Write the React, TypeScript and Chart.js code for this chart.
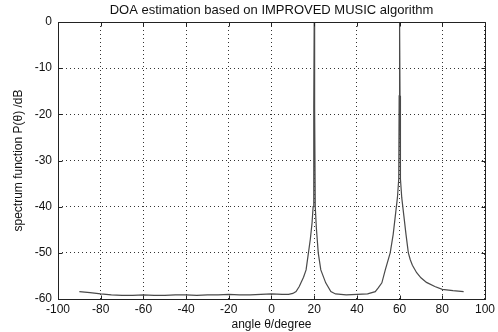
import React, { useEffect, useRef } from "react";
import { Chart, registerables } from "chart.js";

Chart.register(...registerables);

const TITLE = "DOA estimation based on IMPROVED MUSIC algorithm";
const X_LABEL = "angle \u03B8/degree";
const Y_LABEL = "spectrum function P(\u03B8) /dB";

const angles = [
  -90, -85, -80, -75, -70, -65, -60, -55, -50, -45, -40, -35, -30, -25, -20, -15, -10, -5, 0, 5, 8,
  10, 11.5, 13, 13.8, 15, 16.2, 17.3, 18.2, 19, 19.5, 19.8, 20, 20.2, 20.5, 21, 21.9,
  23.1, 25.4, 27.8, 30, 35, 40, 45, 48.6, 50, 51.7, 53.3, 55.6, 57, 58, 59, 59.6, 59.8, 60,
  60.2, 60.4, 61, 62, 63, 64.1, 65, 66, 68, 70, 72.6, 76.5, 80, 85, 90,
];

const spectrum = [
  -58.4, -58.6, -58.9, -59.1, -59.2, -59.2, -59.1, -59.2, -59.2, -59.1, -59.1, -59.2, -59.1, -59.1,
  -59.0, -59.1, -59.1, -59.0, -58.9, -59.0, -59.0,
  -58.8, -58.4, -57.3, -56.5, -55.3, -53.7, -50, -47, -43.5, -40, -18.5, 0, -18.5, -40, -44.5,
  -50, -53.7, -56.5, -58.4, -58.9, -59.1, -59.0, -58.9, -58.4, -57.6, -56.5, -53.7, -50,
  -46, -42, -38, -34, -16, 0, -16, -34, -38, -42, -46, -50, -51.5, -52.7, -54.3, -55.4,
  -56.4, -57.3, -57.9, -58.2, -58.4,
];

const xTicks = [-100, -80, -60, -40, -20, 0, 20, 40, 60, 80, 100];
const yTicks = [-60, -50, -40, -30, -20, -10, 0];

const FONT = "'Liberation Sans', Arial, sans-serif";

const framePlugin = {
  id: "frame",
  afterDraw(chart: any) {
    const { ctx, chartArea } = chart;
    const { left, right, top, bottom } = chartArea;
    const xs = chart.scales.x;
    const ys = chart.scales.y;
    ctx.save();
    ctx.strokeStyle = "#222";
    ctx.lineWidth = 1;
    ctx.beginPath();
    const L = Math.round(left) + 0.5;
    const R = Math.round(right) + 0.5;
    const T = Math.round(top) + 0.5;
    const B = Math.round(bottom) + 0.5;
    ctx.rect(L, T, R - L, B - T);
    for (const v of xTicks) {
      const px = Math.round(xs.getPixelForValue(v)) + 0.5;
      ctx.moveTo(px, B);
      ctx.lineTo(px, B - 4);
      ctx.moveTo(px, T);
      ctx.lineTo(px, T + 4);
    }
    for (const v of yTicks) {
      const py = Math.round(ys.getPixelForValue(v)) + 0.5;
      ctx.moveTo(L, py);
      ctx.lineTo(L + 4, py);
      ctx.moveTo(R, py);
      ctx.lineTo(R - 4, py);
    }
    ctx.stroke();
    ctx.fillStyle = "#111";
    ctx.font = `13px ${FONT}`;
    ctx.textAlign = "center";
    ctx.textBaseline = "middle";
    ctx.fillText(TITLE, (left + right) / 2, 10);
    ctx.restore();
  },
};

export default function App() {
  const ref = useRef<HTMLCanvasElement | null>(null);

  useEffect(() => {
    if (!ref.current) return;
    const points = angles.map((a, i) => ({ x: a, y: spectrum[i] }));
    const chart = new Chart(ref.current, {
      type: "line",
      data: {
        datasets: [
          {
            data: points,
            borderColor: "#4a4a4a",
            borderWidth: 1.2,
            pointRadius: 0,
            tension: 0,
            fill: false,
          },
        ],
      },
      options: {
        animation: false,
        responsive: false,
        maintainAspectRatio: false,
        layout: { padding: { top: 22, right: 9, left: 0, bottom: 0 } },
        plugins: {
          legend: { display: false },
          tooltip: { enabled: false },
          title: { display: false },
        },
        scales: {
          x: {
            type: "linear",
            min: -100,
            max: 100,
            afterBuildTicks: (s: any) => {
              s.ticks = xTicks.map((v) => ({ value: v }));
            },
            afterFit: (s: any) => {
              s.height = 33;
            },
            grid: {
              color: "#333",
              lineWidth: 1,
              drawTicks: false,
            },
            border: { display: false, dash: [1, 3] },
            ticks: {
              color: "#111",
              font: { family: FONT, size: 12 },
              padding: 3,
              maxRotation: 0,
              autoSkip: false,
            },
            title: {
              display: true,
              text: X_LABEL,
              color: "#111",
              font: { family: FONT, size: 12 },
              padding: { top: 0, bottom: 0 },
            },
          },
          y: {
            type: "linear",
            min: -60,
            max: 0,
            afterBuildTicks: (s: any) => {
              s.ticks = yTicks.map((v) => ({ value: v }));
            },
            afterFit: (s: any) => {
              s.width = 58;
            },
            grid: {
              color: "#333",
              lineWidth: 1,
              drawTicks: false,
            },
            border: { display: false, dash: [1, 3] },
            ticks: {
              color: "#111",
              font: { family: FONT, size: 12 },
              padding: 6,
              autoSkip: false,
            },
            title: {
              display: true,
              text: Y_LABEL,
              color: "#111",
              font: { family: FONT, size: 12 },
              padding: { top: 11, bottom: 0 },
            },
          },
        },
      },
      plugins: [framePlugin],
    });
    return () => chart.destroy();
  }, []);

  return (
    <div style={{ position: "absolute", left: 0, top: 0, width: 498, height: 332, background: "#fff" }}>
      <canvas ref={ref} width={498} height={332} style={{ display: "block" }} />
    </div>
  );
}
